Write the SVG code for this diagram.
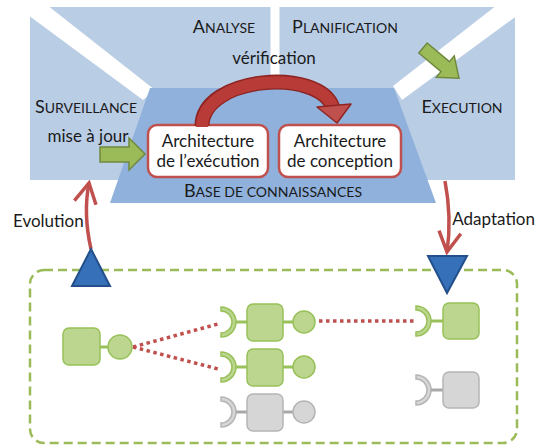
<svg xmlns="http://www.w3.org/2000/svg" width="536" height="446" viewBox="0 0 536 446">
<style>
text{font-family:Lato,"Liberation Sans",sans-serif;fill:#1a1a1a;font-size:17px}
.mid{text-anchor:middle}
.big{font-size:18px}
.sm{font-size:14px}
.box{fill:#fff;stroke:#c0504d;stroke-width:2.5}
.g{fill:#bcd68f;stroke:#98c15a;stroke-width:1.5}
.gl{stroke:#98c15a;stroke-width:3}
.k{fill:#d6d6d6;stroke:#b5b5b5;stroke-width:1.5}
.kl{stroke:#a8a8a8;stroke-width:3}
.dot{stroke:#c0504d;stroke-width:3.5;stroke-dasharray:3.5 3.5;fill:none}
.red{stroke:#c0504d;stroke-width:3.5;fill:none}
.tri{fill:#3570b8;stroke:#23508a;stroke-width:2}
.garrow{fill:#9bbb59;stroke:#71893f;stroke-width:1.5}
</style>
<defs>
<marker id="ah" markerUnits="userSpaceOnUse" viewBox="-3 -14 26 28" refX="20" refY="0" markerWidth="26" markerHeight="28" orient="auto">
<path d="M0,-11 L20,0 L0,11" fill="none" stroke="#c0504d" stroke-width="3.5" stroke-linejoin="miter"/>
</marker>
</defs>

<g id="mape-k">
<rect x="30" y="7" width="485" height="173" fill="#b9cde5"/>
<polygon points="28,5 47,5 155,90 143,100 28,15" fill="#fff"/>
<polygon points="497,5 518,5 518,15 402,100 393,86" fill="#fff"/>
<rect x="270.5" y="5" width="9" height="84" fill="#fff"/>
<polygon id="base" points="150,88 394,88 436,203 110,203" fill="#8fb1dc"/>
<text class="mid" x="224" y="33"><tspan class="big">A</tspan><tspan class="sm">NALYSE</tspan></text>
<text class="mid" x="345" y="33"><tspan class="big">P</tspan><tspan class="sm">LANIFICATION</tspan></text>
<text class="mid" x="86" y="113"><tspan class="big">S</tspan><tspan class="sm">URVEILLANCE</tspan></text>
<text class="mid" x="462" y="113"><tspan class="big">E</tspan><tspan class="sm">XECUTION</tspan></text>
<text class="mid" x="273" y="197"><tspan class="big">B</tspan><tspan class="sm">ASE DE CONNAISSANCES</tspan></text>
<text class="mid" x="274" y="64">vérification</text>
<text class="mid" x="88" y="142">mise à jour</text>
</g>

<g id="arch-exec">
<rect class="box" x="148" y="125" width="120" height="52" rx="9"/>
<text class="mid" x="208" y="147">Architecture</text>
<text class="mid" x="208" y="167">de l’exécution</text>
</g>
<g id="arch-conc">
<rect class="box" x="279" y="125" width="122" height="52" rx="9"/>
<text class="mid" x="340" y="147">Architecture</text>
<text class="mid" x="340" y="167">de conception</text>
</g>

<g id="connectors">
<path d="M202,126 C202,76 320,67 333,108" fill="none" stroke="#8e2522" stroke-width="15"/>
<path d="M202,127 C202,76 320,67 333,108" fill="none" stroke="#b83b37" stroke-width="12"/>
<polygon points="317,107 351,104 337,123" fill="#c0504d" stroke="#8e2522" stroke-width="1.5" stroke-linejoin="round"/>
<polygon class="garrow" points="100,147 129,147 129,138 145,154 129,170 129,162 100,162"/>
<polygon class="garrow" transform="translate(423,48) rotate(40)" points="0,-6.5 29,-6.5 29,-14 47,0 29,14 29,6.5 0,6.5"/>
<path class="red" d="M91,249 Q83,214 89,183" marker-end="url(#ah)"/>
<path class="red" d="M445,181 Q452,218 447,252" marker-end="url(#ah)"/>
<path class="dot" d="M133,347 L218,324"/>
<path class="dot" d="M133,347 L218,369"/>
<path class="dot" d="M319,321 L414,321"/>
</g>
<text x="13" y="227">Evolution</text>
<text x="535" y="225" font-size="15" text-anchor="end">Adaptation</text>

<g id="system">
<rect x="30" y="270" width="487" height="173" rx="14" fill="none" stroke="#9bbb59" stroke-width="2.5" stroke-dasharray="9 5"/>
</g>
<polygon id="tri-up" class="tri" points="72,286 110,286 91,249"/>
<polygon id="tri-down" class="tri" points="428,256 467,256 447,293"/>

<g id="comp-left">
<line class="gl" x1="100" y1="347" x2="108" y2="347"/>
<rect class="g" x="63" y="328" width="37" height="37" rx="6"/>
<circle class="g" cx="120" cy="347" r="12"/>
</g>
<g id="comp-m1">
<path class="g" d="M221,307 A15,15 0 0 1 221,337 L221,333 A11,11 0 0 0 221,311 Z"/>
<line class="gl" x1="236" y1="322" x2="247" y2="322"/>
<line class="gl" x1="283" y1="322" x2="293" y2="322"/>
<rect class="g" x="247" y="304" width="36" height="37" rx="6"/>
<circle class="g" cx="304" cy="322" r="11"/>
</g>
<g id="comp-m2">
<path class="g" d="M221,352 A15,15 0 0 1 221,382 L221,378 A11,11 0 0 0 221,356 Z"/>
<line class="gl" x1="236" y1="367" x2="247" y2="367"/>
<line class="gl" x1="283" y1="367" x2="293" y2="367"/>
<rect class="g" x="247" y="349" width="36" height="37" rx="6"/>
<circle class="g" cx="304" cy="367" r="11"/>
</g>
<g id="comp-m3">
<path class="k" d="M221,397 A15,15 0 0 1 221,427 L221,423 A11,11 0 0 0 221,401 Z"/>
<line class="kl" x1="236" y1="412" x2="247" y2="412"/>
<line class="kl" x1="283" y1="412" x2="293" y2="412"/>
<rect class="k" x="247" y="394" width="36" height="37" rx="6"/>
<circle class="k" cx="304" cy="412" r="11"/>
</g>
<g id="comp-r1">
<path class="g" d="M416,306 A15,15 0 0 1 416,336 L416,332 A11,11 0 0 0 416,310 Z"/>
<line class="gl" x1="431" y1="321" x2="443" y2="321"/>
<rect class="g" x="443" y="303" width="36" height="36" rx="6"/>
</g>
<g id="comp-r2">
<path class="k" d="M416,375 A15,15 0 0 1 416,405 L416,401 A11,11 0 0 0 416,379 Z"/>
<line class="kl" x1="431" y1="390" x2="443" y2="390"/>
<rect class="k" x="443" y="372" width="36" height="36" rx="6"/>
</g>
</svg>
